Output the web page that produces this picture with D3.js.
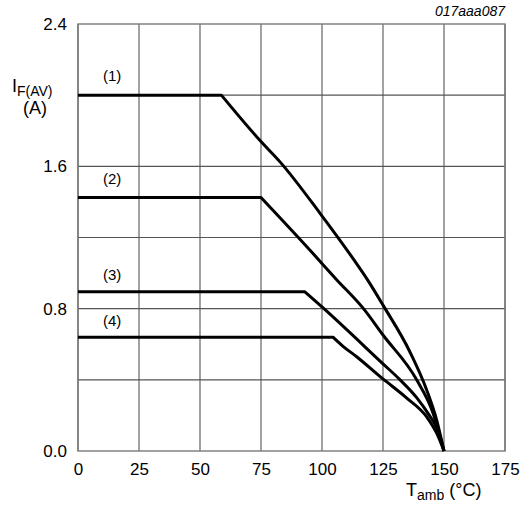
<!DOCTYPE html>
<html>
<head>
<meta charset="utf-8">
<script src="https://cdn.jsdelivr.net/npm/d3@7"></script>
<style>
  body { margin: 0; background: #fff; }
  text { font-family: "Liberation Sans", Arial, sans-serif; }
</style>
</head>
<body>
<div id="chart"></div>
<script>
// data
var xTicks = [0, 25, 50, 75, 100, 125, 150, 175]
var yTicks = [0.0, 0.8, 1.6, 2.4]
var yGrid = [0.4, 0.8, 1.2, 1.6, 2.0]
var seriesNames = ["(1)", "(2)", "(3)", "(4)"]
var labelPos = [[14, 2.11], [14, 1.53], [14, 0.99], [14, 0.73]]

var curve1 = [[0, 2.0], [58.75, 2.0], [74.6, 1.745], [82.8, 1.625], [99.2, 1.336], [112.8, 1.08],
    [119, 0.955], [125, 0.82], [136, 0.558], [142.9, 0.343], [147, 0.174], [150, 0]]
var curve2 = [[0, 1.425], [75, 1.425], [95, 1.13], [106, 0.963], [117, 0.8],
    [125, 0.652], [138.8, 0.4], [145.6, 0.21], [150, 0]]
var curve3 = [[0, 0.895], [93, 0.895], [100.8, 0.8], [125, 0.49], [132, 0.4], [138.8, 0.3],
    [144, 0.2], [147, 0.13], [150, 0]]
var curve4 = [[0, 0.64], [104.5, 0.64], [108.5, 0.59], [114.2, 0.53], [125, 0.405], [134.5, 0.3],
    [143, 0.19], [147, 0.1], [150, 0]]
var curves = [curve1, curve2, curve3, curve4]

var margin = { top: 24, right: 15, bottom: 56, left: 78 },
    width = 520 - margin.left - margin.right,
    height = 507 - margin.top - margin.bottom;

var svg = d3.select("#chart")
    .append("svg")
    .attr("width", 520)
    .attr("height", 507)

var g = svg.append("g")
    .attr("transform", "translate(" + margin.left + "," + margin.top + ")");

var x = d3.scaleLinear().domain([0, 175]).range([0, width]);
var y = d3.scaleLinear().domain([0, 2.4]).range([height, 0]);

// grid
g.selectAll(".vgrid")
    .data(xTicks)
    .enter()
    .append("line")
    .attr("x1", d => x(d)).attr("x2", d => x(d))
    .attr("y1", 0).attr("y2", height)
    .attr("stroke", "#7a7a7a")
    .attr("stroke-width", 1.4)

g.selectAll(".hgrid")
    .data(yGrid)
    .enter()
    .append("line")
    .attr("x1", 0).attr("x2", width)
    .attr("y1", d => y(d)).attr("y2", d => y(d))
    .attr("stroke", "#555")
    .attr("stroke-width", 1.1)

g.append("rect")
    .attr("width", width).attr("height", height)
    .attr("fill", "none")
    .attr("stroke", "#7a7a7a")
    .attr("stroke-width", 1.4)

// axes
var xAxis = g.append("g")
    .attr("transform", "translate(0," + height + ")")
    .call(d3.axisBottom(x).tickValues(xTicks).tickSize(0).tickPadding(12).tickFormat(d3.format("d")))
xAxis.select(".domain").remove()
xAxis.selectAll("text").attr("font-size", 17).attr("fill", "#000")
    .attr("font-family", "Liberation Sans, Arial, sans-serif")

var yAxis = g.append("g")
    .call(d3.axisLeft(y).tickValues(yTicks).tickSize(0).tickPadding(11).tickFormat(d3.format(".1f")))
yAxis.select(".domain").remove()
yAxis.selectAll("text").attr("font-size", 17).attr("fill", "#000")
    .attr("font-family", "Liberation Sans, Arial, sans-serif")

// series labels with white boxes behind
var labels = g.selectAll(".lbl")
    .data(seriesNames)
    .enter()
    .append("g")
    .attr("transform", (d, i) => "translate(" + x(labelPos[i][0]) + "," + y(labelPos[i][1]) + ")")
labels.append("rect")
    .attr("x", -14).attr("y", -10).attr("width", 28).attr("height", 20)
    .attr("fill", "#fff")
labels.append("text")
    .attr("text-anchor", "middle")
    .attr("dy", "0.35em")
    .attr("font-size", 15)
    .text(d => d)

// curves: flat part straight, derating part smoothed
var flat = d3.line()
    .x(d => x(d[0]))
    .y(d => y(d[1]))
var bend = d3.line()
    .x(d => x(d[0]))
    .y(d => y(d[1]))
    .curve(d3.curveMonotoneX)

curves.forEach(c => {
    g.append("path")
        .attr("d", flat(c.slice(0, 2)) + bend(c.slice(1)).replace(/^M/, "L"))
        .attr("fill", "none")
        .attr("stroke", "#000")
        .attr("stroke-width", 3)
        .attr("stroke-linejoin", "round")
})

// axis titles
var yt = svg.append("text").attr("x", 12).attr("y", 92).attr("font-size", 18)
yt.append("tspan").text("I")
yt.append("tspan").attr("font-size", 14).attr("dy", 4).text("F(AV)")
svg.append("text").attr("x", 35).attr("y", 114).attr("font-size", 18)
    .attr("text-anchor", "middle").text("(A)")

var xt = svg.append("text").attr("x", 406).attr("y", 496).attr("font-size", 18)
xt.append("tspan").text("T")
xt.append("tspan").attr("font-size", 14).attr("dy", 4).text("amb")
xt.append("tspan").attr("dy", -4).text(" (°C)")

svg.append("text")
    .attr("x", 505).attr("y", 16)
    .attr("text-anchor", "end")
    .attr("font-size", 14)
    .attr("font-style", "italic")
    .text("017aaa087")
</script>
</body>
</html>
